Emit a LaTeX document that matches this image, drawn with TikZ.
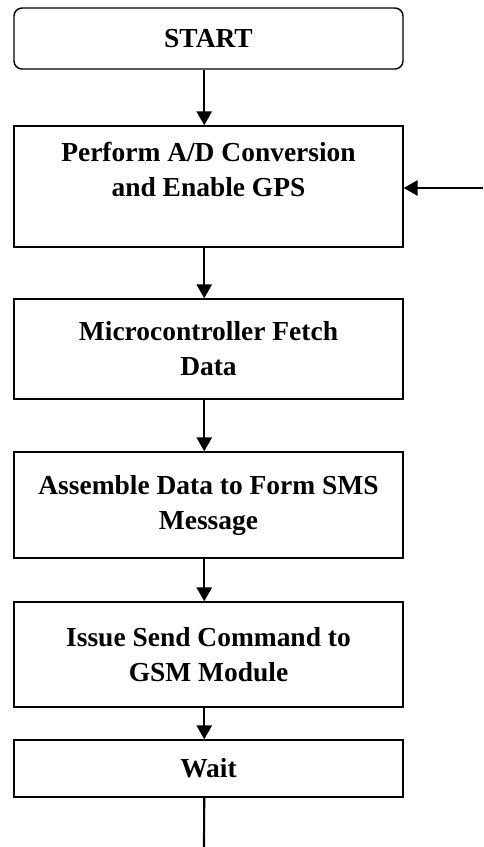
\documentclass[tikz,border=0pt]{standalone}
\usepackage{fontspec}
\setmainfont{Liberation Serif}
\usetikzlibrary{arrows.meta}
\tikzstyle{every node}=[rectangle, align=center, font=\fontsize{20.6}{26.25}\selectfont\bfseries]
\tikzstyle{stepbox}=[draw, line width=1.1pt, minimum width=291.75pt, inner sep=0pt]
\tikzstyle{flow}=[-{Triangle[length=10.5pt, width=11.5pt]}, line width=1.6pt]

\begin{document}
\begin{tikzpicture}[x=0.75pt, y=-0.75pt]
	\useasboundingbox (0,0) rectangle (483,847);
	\node		[stepbox, rounded corners=6pt, minimum height=45.75pt]	(A) at (208.5,38.5)	{START};
	\node		[stepbox, minimum height=90.75pt]	(B) at (208.5,186.5)	{Perform A/D Conversion\\and Enable GPS\\\mbox{}};
	\node		[stepbox, minimum height=75pt]		(C) at (208.5,349)	{Microcontroller Fetch\\Data};
	\node		[stepbox, minimum height=79.5pt]	(D) at (208.5,505)	{Assemble Data to Form SMS\\Message};
	\node		[stepbox, minimum height=78.75pt]	(E) at (208.5,654.5)	{Issue Send Command to\\GSM Module};
	\node		[stepbox, minimum height=42.75pt]	(F) at (208.5,768.5)	{Wait};
	\coordinate	(R) at (483,188);
	\coordinate	(Z) at (204,847);
	\draw[flow] ([xshift=-3.2pt]A.south)--([xshift=-3.2pt]B.north);
	\draw[flow] ([xshift=-3.2pt]B.south)--([xshift=-3.2pt]C.north);
	\draw[flow] ([xshift=-3.2pt]C.south)--([xshift=-3.2pt]D.north);
	\draw[flow] ([xshift=-3.2pt]D.south)--([xshift=-3.2pt]E.north);
	\draw[flow] ([xshift=-3.2pt]E.south)--([xshift=-3.2pt]F.north);
	\draw[flow] (R)--(R -| B.east);
	\draw[line width=1.6pt] ([xshift=-3.2pt]F.south)--(Z);
\end{tikzpicture}
\end{document}
